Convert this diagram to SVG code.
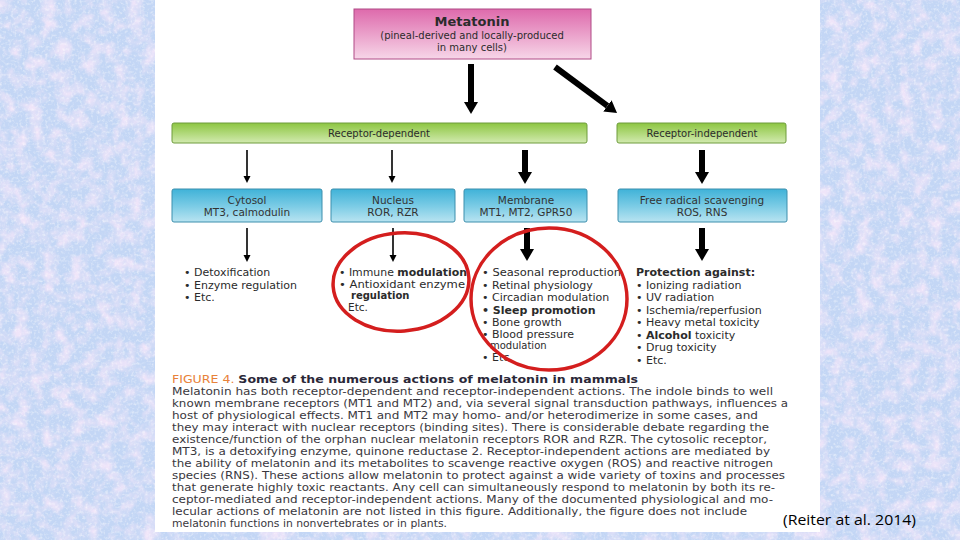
<svg xmlns="http://www.w3.org/2000/svg" width="960" height="540" viewBox="0 0 960 540">
<defs>
<filter id="tex" x="0" y="0" width="100%" height="100%">
<feTurbulence type="fractalNoise" baseFrequency="0.07" numOctaves="3" seed="4"/>
<feColorMatrix type="matrix" values="0 0 0 0 0.86  0 0 0 0 0.78  0 0 0 0 0.95  2.4 0 0 0 -0.95"/>
</filter>
<filter id="tex2" x="0" y="0" width="100%" height="100%">
<feTurbulence type="fractalNoise" baseFrequency="0.35" numOctaves="2" seed="9"/>
<feColorMatrix type="matrix" values="0 0 0 0 1  0 0 0 0 1  0 0 0 0 1  0 2.4 0 0 -1.15"/>
</filter>
<linearGradient id="pink" x1="0" y1="0" x2="0" y2="1">
<stop offset="0" stop-color="#de6aac"/>
<stop offset="1" stop-color="#f7d6e8"/>
</linearGradient>
<linearGradient id="green" x1="0" y1="0" x2="0" y2="1">
<stop offset="0" stop-color="#8dc641"/>
<stop offset="1" stop-color="#d2eab0"/>
</linearGradient>
<linearGradient id="blue" x1="0" y1="0" x2="0" y2="1">
<stop offset="0" stop-color="#3fb2d8"/>
<stop offset="0.55" stop-color="#7fcde6"/>
<stop offset="1" stop-color="#b9e4f1"/>
</linearGradient>
<marker id="thick" markerUnits="userSpaceOnUse" markerWidth="14" markerHeight="14" refX="0" refY="7" orient="auto">
<path d="M0,0 L12,7 L0,14 z" fill="#000"/>
</marker>
<marker id="thin" markerUnits="userSpaceOnUse" markerWidth="8" markerHeight="8" refX="0" refY="4" orient="auto">
<path d="M0,0.5 L7,4 L0,7.5 z" fill="#000"/>
</marker>
<style>
.txt{font-family:"DejaVu Sans",Verdana,sans-serif;fill:#2b2b2b}
.box{font-size:10.5px;text-anchor:middle;fill:#333}
.li{font-size:11px}
.nl{font-size:10.5px}
.sm{font-size:10px}
.b{font-weight:bold}
.cap{font-family:"DejaVu Sans",Verdana,sans-serif;font-size:10.8px;fill:#3a3840}
.thk{stroke:#000;stroke-width:6;fill:none}
.thn{stroke:#000;stroke-width:1.6;fill:none}
.ring{fill:none;stroke:#d41e1e;stroke-width:3.5}
</style>
</defs>

<g id="background">
<rect x="0" y="0" width="960" height="540" fill="#c3d6f5"/>
<rect x="0" y="0" width="960" height="540" filter="url(#tex)"/>
<rect x="0" y="0" width="960" height="540" filter="url(#tex2)" opacity="0.5"/>
<rect x="155" y="0" width="665" height="532" fill="#ffffff"/>
</g>

<g id="connectors">
<line class="thk" x1="471" y1="64" x2="471" y2="102" marker-end="url(#thick)"/>
<line class="thk" x1="555" y1="67" x2="607.4" y2="105.8" marker-end="url(#thick)"/>
<line class="thn" x1="247" y1="150" x2="247" y2="176" marker-end="url(#thin)"/>
<line class="thn" x1="392" y1="150" x2="392" y2="176" marker-end="url(#thin)"/>
<line class="thk" x1="525" y1="150" x2="525" y2="172" marker-end="url(#thick)"/>
<line class="thk" x1="702" y1="150" x2="702" y2="172" marker-end="url(#thick)"/>
<line class="thn" x1="247" y1="228" x2="247" y2="255" marker-end="url(#thin)"/>
<line class="thn" x1="393" y1="228" x2="393" y2="255" marker-end="url(#thin)"/>
<line class="thk" x1="527" y1="228" x2="527" y2="249" marker-end="url(#thick)"/>
<line class="thk" x1="702" y1="228" x2="702" y2="249" marker-end="url(#thick)"/>
</g>

<g id="metatonin">
<rect x="354" y="9" width="237" height="50" fill="url(#pink)" stroke="#b04a86" stroke-width="1"/>
<text class="txt b" x="472" y="26" font-size="13" text-anchor="middle">Metatonin</text>
<text class="txt" x="472" y="39" font-size="10" text-anchor="middle">(pineal-derived and locally-produced</text>
<text class="txt" x="472" y="51" font-size="10" text-anchor="middle">in many cells)</text>
</g>

<g id="receptor-dependent">
<rect x="172" y="123" width="415" height="20" rx="2" fill="url(#green)" stroke="#6e9c3c" stroke-width="1"/>
<text class="txt" x="379" y="137" font-size="10" text-anchor="middle">Receptor-dependent</text>
</g>
<g id="receptor-independent">
<rect x="617" y="123" width="169" height="20" rx="2" fill="url(#green)" stroke="#6e9c3c" stroke-width="1"/>
<text class="txt" x="702" y="137" font-size="10" text-anchor="middle">Receptor-independent</text>
</g>

<g id="cytosol">
<rect x="172" y="189" width="150" height="33" rx="2" fill="url(#blue)" stroke="#3d8fad" stroke-width="1"/>
<text class="txt box" x="247" y="204">Cytosol</text>
<text class="txt box" x="247" y="216">MT3, calmodulin</text>
</g>
<g id="nucleus">
<rect x="331" y="189" width="124" height="33" rx="2" fill="url(#blue)" stroke="#3d8fad" stroke-width="1"/>
<text class="txt box" x="393" y="204">Nucleus</text>
<text class="txt box" x="393" y="216">ROR, RZR</text>
</g>
<g id="membrane">
<rect x="464" y="189" width="123" height="33" rx="2" fill="url(#blue)" stroke="#3d8fad" stroke-width="1"/>
<text class="txt box" x="526" y="204">Membrane</text>
<text class="txt box" x="526" y="216">MT1, MT2, GPR50</text>
</g>
<g id="free-radical">
<rect x="618" y="189" width="169" height="33" rx="2" fill="url(#blue)" stroke="#3d8fad" stroke-width="1"/>
<text class="txt box" x="702" y="204">Free radical scavenging</text>
<text class="txt box" x="702" y="216">ROS, RNS</text>
</g>

<g id="cytosol-actions" class="txt li">
<text x="184" y="276">• Detoxification</text>
<text x="184" y="289">• Enzyme regulation</text>
<text x="184" y="301">• Etc.</text>
</g>
<g id="nucleus-actions" class="txt nl">
<text x="339" y="276" textLength="128" lengthAdjust="spacingAndGlyphs">• Immune <tspan class="b">modulation</tspan></text>
<text x="339" y="288" textLength="126" lengthAdjust="spacingAndGlyphs">• Antioxidant enzyme</text>
<text x="351" y="298.5" class="b sm">regulation</text>
<text x="348" y="311">Etc.</text>
</g>
<g id="membrane-actions" class="txt li">
<text x="482" y="276" textLength="139" lengthAdjust="spacingAndGlyphs">• Seasonal reproduction</text>
<text x="482" y="289">• Retinal physiology</text>
<text x="482" y="301">• Circadian modulation</text>
<text x="482" y="314" class="b">• Sleep promotion</text>
<text x="482" y="326">• Bone growth</text>
<text x="482" y="337.5">• Blood pressure</text>
<text x="490" y="349" class="sm">modulation</text>
<text x="482" y="361">• Etc.</text>
</g>
<g id="free-radical-actions" class="txt li">
<text x="636" y="276" class="b">Protection against:</text>
<text x="636" y="289">• Ionizing radiation</text>
<text x="636" y="301">• UV radiation</text>
<text x="636" y="314">• Ischemia/reperfusion</text>
<text x="636" y="326">• Heavy metal toxicity</text>
<text x="636" y="339">• <tspan class="b">Alcohol</tspan> toxicity</text>
<text x="636" y="351">• Drug toxicity</text>
<text x="636" y="364">• Etc.</text>
</g>

<g id="highlights">
<ellipse class="ring" cx="401" cy="282" rx="68" ry="49" transform="rotate(-4 401 282)"/>
<ellipse class="ring" cx="549" cy="299" rx="78" ry="71"/>
</g>

<g id="caption">
<text class="cap" x="172" y="383" font-size="12.5" textLength="466" lengthAdjust="spacingAndGlyphs"><tspan fill="#e8823a">FIGURE 4.</tspan> <tspan font-weight="bold" fill="#2a2838">Some of the numerous actions of melatonin in mammals</tspan></text>
<text class="cap" x="172" y="395" textLength="601" lengthAdjust="spacingAndGlyphs">Melatonin has both receptor-dependent and receptor-independent actions. The indole binds to well</text>
<text class="cap" x="172" y="407" textLength="616" lengthAdjust="spacingAndGlyphs">known membrane receptors (MT1 and MT2) and, via several signal transduction pathways, influences a</text>
<text class="cap" x="172" y="419" textLength="586" lengthAdjust="spacingAndGlyphs">host of physiological effects. MT1 and MT2 may homo- and/or heterodimerize in some cases, and</text>
<text class="cap" x="172" y="431" textLength="597" lengthAdjust="spacingAndGlyphs">they may interact with nuclear receptors (binding sites). There is considerable debate regarding the</text>
<text class="cap" x="172" y="443" textLength="595" lengthAdjust="spacingAndGlyphs">existence/function of the orphan nuclear melatonin receptors ROR and RZR. The cytosolic receptor,</text>
<text class="cap" x="172" y="455" textLength="598" lengthAdjust="spacingAndGlyphs">MT3, is a detoxifying enzyme, quinone reductase 2. Receptor-independent actions are mediated by</text>
<text class="cap" x="172" y="467" textLength="601" lengthAdjust="spacingAndGlyphs">the ability of melatonin and its metabolites to scavenge reactive oxygen (ROS) and reactive nitrogen</text>
<text class="cap" x="172" y="479" textLength="613" lengthAdjust="spacingAndGlyphs">species (RNS). These actions allow melatonin to protect against a wide variety of toxins and processes</text>
<text class="cap" x="172" y="491" textLength="603" lengthAdjust="spacingAndGlyphs">that generate highly toxic reactants. Any cell can simultaneously respond to melatonin by both its re-</text>
<text class="cap" x="172" y="503" textLength="601" lengthAdjust="spacingAndGlyphs">ceptor-mediated and receptor-independent actions. Many of the documented physiological and mo-</text>
<text class="cap" x="172" y="515" textLength="575" lengthAdjust="spacingAndGlyphs">lecular actions of melatonin are not listed in this figure. Additionally, the figure does not include</text>
<text class="cap" x="172" y="527" textLength="275" lengthAdjust="spacingAndGlyphs">melatonin functions in nonvertebrates or in plants.</text>
</g>

<g id="citation">
<text x="783" y="525" font-family="'Open Sans','Liberation Sans',sans-serif" font-size="15" fill="#000" textLength="133" lengthAdjust="spacingAndGlyphs">(Reiter at al. 2014)</text>
</g>
</svg>
